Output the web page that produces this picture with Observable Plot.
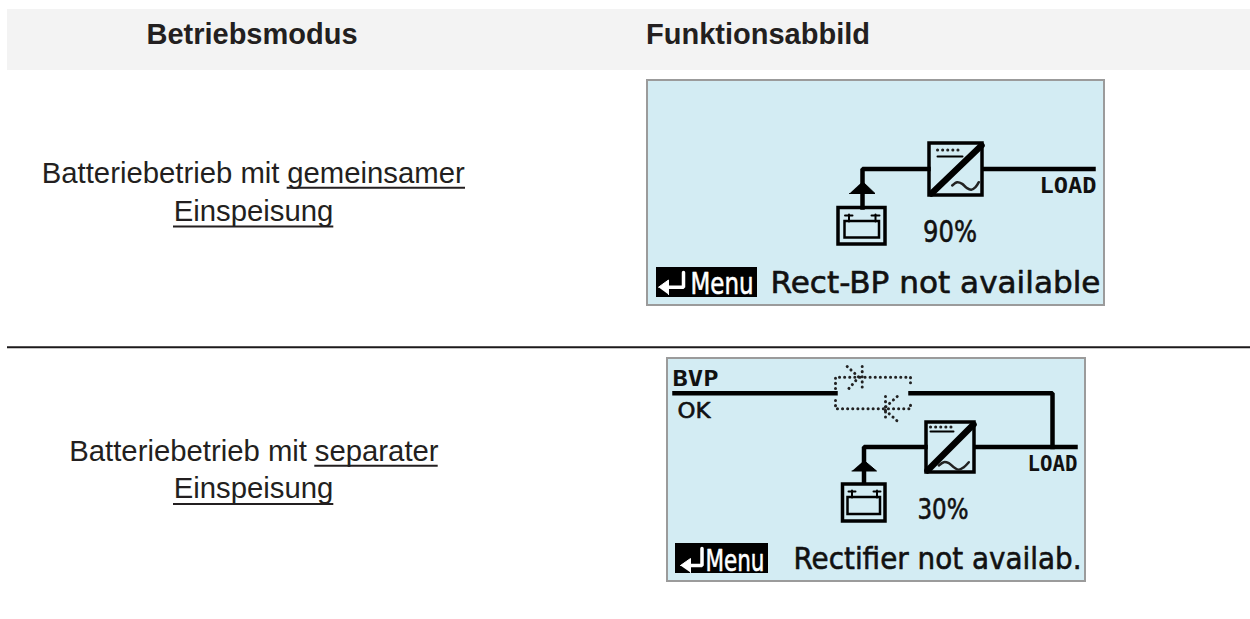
<!DOCTYPE html>
<html><head><meta charset="utf-8">
<script src="https://cdn.jsdelivr.net/npm/d3@7"></script>
<script src="https://cdn.jsdelivr.net/npm/@observablehq/plot@0.6"></script>
<style>
html,body{margin:0;padding:0;background:#fff}
svg{display:block}
</style></head><body><div id="c"></div>
<script>
const ink = "#231f20", lcdInk = "#111", lcdFill = "#d3ecf3";
const headerBand = [{x1:7,x2:1250,y1:9,y2:70}];
const separators = [{x1:7,x2:1250,y:346.7}];
const headers = [
  {t:"Betriebsmodus",x:251.5,y:43},
  {t:"Funktionsabbild",x:757.5,y:43}
];
const plainLabels = [
  {t:"Batteriebetrieb mit",x:279,y:182.7},
  {t:"Batteriebetrieb mit",x:306.5,y:460.5}
];
const linkLabels = [
  {t:"gemeinsamer",x:286.7,y:182.7},
  {t:"separater",x:314.3,y:460.5}
];
const centerLabels = [
  {t:"Einspeisung",x:253,y:220},
  {t:"Einspeisung",x:253,y:497.8}
];
const underlines = [
  {x1:286.7,x2:465,y:187.3},{x1:173,x2:333.3,y:226},
  {x1:314.3,x2:437.7,y:465.3},{x1:173,x2:333.3,y:503.5}
];
const panels = [
  {x1:647,x2:1104,y1:80,y2:305},
  {x1:667,x2:1085,y1:358,y2:581}
];
const menuBoxes = [
  {x1:656,x2:757,y1:267,y2:297},
  {x1:675,x2:768,y1:543,y2:573}
];
const boxes = [
  {x1:929,x2:982,y1:143,y2:195},
  {x1:926,x2:974,y1:422,y2:472},
  {x1:838,x2:885,y1:207.5,y2:244},
  {x1:842.5,x2:885,y1:484,y2:521}
];
const batteries = [
  {x1:844.5,x2:879,y1:221,y2:237.5},
  {x1:847.5,x2:880,y1:497,y2:514}
];
const wires = [
  {id:"a",x:862,y:207},{id:"a",x:862,y:168.5},{id:"a",x:928,y:168.5},
  {id:"b",x:983,y:168.5},{id:"b",x:1093,y:168.5},
  {id:"c",x:674,y:392.8},{id:"c",x:835,y:392.8},
  {id:"d",x:910,y:392.8},{id:"d",x:1052,y:392.8},{id:"d",x:1052,y:446.5},
  {id:"e",x:863.5,y:482},{id:"e",x:863.5,y:446.5},{id:"e",x:925,y:446.5},
  {id:"f",x:975,y:446.5},{id:"f",x:1075,y:446.5}
];
const diagonals = [
  {id:"a",x:931,y:193},{id:"a",x:981,y:145},
  {id:"b",x:927,y:470},{id:"b",x:973,y:424}
];
const thinBlack = [
  {id:"a",x:937,y:156},{id:"a",x:962,y:156},
  {id:"b",x:930,y:431},{id:"b",x:953,y:431},
  {id:"c",x:848.5,y:221},{id:"c",x:848.5,y:214},
  {id:"d",x:875,y:221},{id:"d",x:875,y:214},
  {id:"e",x:844.5,y:215},{id:"e",x:852,y:215},
  {id:"f",x:871,y:215},{id:"f",x:879,y:215},
  {id:"g",x:851.5,y:497},{id:"g",x:851.5,y:490},
  {id:"h",x:876.5,y:497},{id:"h",x:876.5,y:490},
  {id:"i",x:848,y:491},{id:"i",x:855,y:491},
  {id:"j",x:873,y:491},{id:"j",x:880,y:491}
];
const sines = [
  {id:"a",x:951.7,y:185},{id:"a",x:956.7,y:181.7},{id:"a",x:961.7,y:183.3},{id:"a",x:966,y:187.3},{id:"a",x:970.7,y:189.3},{id:"a",x:975,y:186.7},{id:"a",x:978.3,y:181.7},
  {id:"b",x:938.3,y:465},{id:"b",x:943.3,y:461.7},{id:"b",x:948.3,y:462.7},{id:"b",x:953.3,y:466.7},{id:"b",x:958.3,y:469.3},{id:"b",x:963.3,y:466.7},{id:"b",x:968.3,y:461.7}
];
const arrowHeads = [
  {id:"a",x:849,y:193},{id:"a",x:874.5,y:193},{id:"a",x:862,y:181},
  {id:"b",x:851.5,y:470.5},{id:"b",x:876,y:470.5},{id:"b",x:863.5,y:460}
];
const dottedWires = [
  {id:"a",x:937,y:149.5},{id:"a",x:962,y:149.5},
  {id:"b",x:930,y:426.5},{id:"b",x:953,y:426.5},
  {id:"c",x:835,y:388},{id:"c",x:835,y:376.7},{id:"c",x:910,y:376.7},{id:"c",x:910,y:386},
  {id:"d",x:835,y:400},{id:"d",x:835,y:408.3},{id:"d",x:910,y:408.3},{id:"d",x:910,y:400},
  {id:"e",x:846.7,y:366},{id:"e",x:858.3,y:376.7},{id:"e",x:847.5,y:389},
  {id:"f",x:861.7,y:366},{id:"f",x:861.7,y:389},
  {id:"g",x:896.7,y:396},{id:"g",x:883.3,y:408.3},{id:"g",x:896.7,y:420.5},
  {id:"h",x:885,y:396},{id:"h",x:885,y:420.5}
];
const menuArrows = [
  {id:"a",x:664,y:286.7},{id:"a",x:683,y:286.7},{id:"a",x:683,y:272},
  {id:"b",x:686,y:565},{id:"b",x:701.5,y:565},{id:"b",x:701.5,y:548}
];
const menuHeads = [
  {id:"a",x:658,y:286.7},{id:"a",x:668,y:279.5},{id:"a",x:668,y:294},
  {id:"b",x:680,y:565},{id:"b",x:690,y:558},{id:"b",x:690,y:572}
];
const menuLabels = [{t:"Menu",x:690,y:293},{t:"Menu",x:705,y:570}];
const menuWidths = [63,59];
const statusLabels = [
  {t:"Rect-BP not available",x:770,y:292.5,fs:30},
  {t:"Rectifier not availab.",x:793,y:568,fs:29.5}
];
const statusWidths = [330,288];
const percents = [{t:"90%",x:922.5,y:241.5,fs:31},{t:"30%",x:917,y:518.3,fs:28}];
const percentWidths = [54,51];
const tags = [
  {t:"LOAD",x:1039,y:192},{t:"LOAD",x:1027,y:470},
  {t:"BVP",x:672,y:385}
];
const tagWidths = [57,50,46];
const okLabels = [{t:"OK",x:677,y:417}];
const okWidths = [33];

const lcd = "DejaVu Sans", mono = "DejaVu Sans Mono", sans = "Liberation Sans";
const bodyText = {text:"t",x:"x",y:"y",lineAnchor:"bottom",fontFamily:sans,fontSize:29.3,fill:ink};
const lcdText = {text:"t",x:"x",y:"y",lineAnchor:"bottom",textAnchor:"start",fontFamily:lcd,fill:lcdInk,stroke:lcdInk,strokeWidth:0.6};
const chart = Plot.plot({
  width:1250,height:619,margin:0,
  x:{domain:[0,1250],range:[0,1250],axis:null},
  y:{domain:[0,619],range:[0,619],axis:null},
  marks:[
    Plot.rect(headerBand,{x1:"x1",x2:"x2",y1:"y1",y2:"y2",fill:"#f3f3f3"}),
    Plot.ruleY(separators,{x1:"x1",x2:"x2",y:"y",stroke:"#1c1a1b",strokeWidth:2}),
    Plot.text(headers,{...bodyText,fontWeight:"bold",fontSize:29}),
    Plot.text(plainLabels,{...bodyText,textAnchor:"end"}),
    Plot.text(linkLabels,{...bodyText,textAnchor:"start"}),
    Plot.text(centerLabels,bodyText),
    Plot.ruleY(underlines,{x1:"x1",x2:"x2",y:"y",stroke:ink,strokeWidth:2}),
    Plot.rect(panels,{x1:"x1",x2:"x2",y1:"y1",y2:"y2",fill:lcdFill,stroke:"#9b9b9b",strokeWidth:2}),
    Plot.rect(boxes,{x1:"x1",x2:"x2",y1:"y1",y2:"y2",fill:lcdFill,stroke:"#000",strokeWidth:3.5}),
    Plot.rect(batteries,{x1:"x1",x2:"x2",y1:"y1",y2:"y2",fill:"none",stroke:"#000",strokeWidth:2.5}),
    Plot.line(wires,{x:"x",y:"y",z:"id",stroke:"#000",strokeWidth:4.5,strokeLinejoin:"miter",strokeLinecap:"square"}),
    Plot.line(diagonals,{x:"x",y:"y",z:"id",stroke:"#000",strokeWidth:6.5}),
    Plot.line(thinBlack,{x:"x",y:"y",z:"id",stroke:"#000",strokeWidth:2}),
    Plot.line(sines,{x:"x",y:"y",z:"id",stroke:"#222",strokeWidth:2.5,curve:"catmull-rom"}),
    Plot.line(arrowHeads,{x:"x",y:"y",z:"id",fill:"#000",stroke:"#000",strokeWidth:1}),
    Plot.line(dottedWires,{x:"x",y:"y",z:"id",stroke:"#222",strokeWidth:3,strokeDasharray:"0.1,5",strokeLinecap:"round",strokeLinejoin:"round"}),
    Plot.rect(menuBoxes,{x1:"x1",x2:"x2",y1:"y1",y2:"y2",fill:"#000"}),
    Plot.line(menuArrows,{x:"x",y:"y",z:"id",stroke:"#fff",strokeWidth:3.5,strokeLinejoin:"miter"}),
    Plot.line(menuHeads,{x:"x",y:"y",z:"id",fill:"#fff",stroke:"#fff",strokeWidth:1}),
    Plot.text(menuLabels,{...lcdText,fontSize:31,fill:"#fff",stroke:"#fff",className:"fit-menu"}),
    Plot.text(statusLabels,{...lcdText,fontSize:"fs",className:"fit-status"}),
    Plot.text(percents,{...lcdText,fontSize:"fs",className:"fit-pct"}),
    Plot.text(tags,{...lcdText,stroke:"none",fontFamily:mono,fontWeight:"bold",fontSize:21,className:"fit-tag"}),
    Plot.text(okLabels,{...lcdText,fontSize:21,className:"fit-ok"})
  ]
});
// squeeze each LCD label to the width it has on the display
const fit = (cls, widths) => d3.select(chart).selectAll(`.${cls} text`)
  .attr("textLength", (_, i) => widths[i]).attr("lengthAdjust", "spacingAndGlyphs");
fit("fit-menu", menuWidths);
fit("fit-status", statusWidths);
fit("fit-pct", percentWidths);
fit("fit-tag", tagWidths);
fit("fit-ok", okWidths);
document.getElementById("c").append(chart);
</script></body></html>
